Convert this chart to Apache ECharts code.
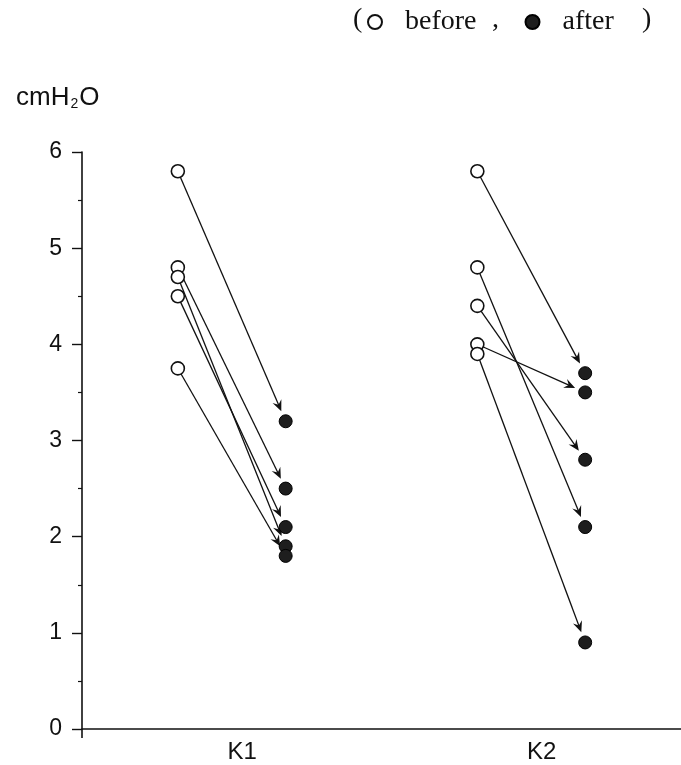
<!DOCTYPE html>
<html>
<head>
<meta charset="utf-8">
<script src="https://cdn.jsdelivr.net/npm/echarts@6/dist/echarts.min.js"></script>
<style>
html,body{margin:0;padding:0;background:#fff;}
#chart{width:681px;height:765px;}
</style>
</head>
<body>
<div id="chart"></div>
<script>
// ---- data ----
var categories = ['K1', 'K2'];
var beforeK1 = [5.8, 4.8, 4.7, 4.5, 3.75];
var afterK1  = [3.2, 2.5, 1.9, 2.1, 1.8];
var beforeK2 = [5.8, 4.8, 4.4, 4.0, 3.9];
var afterK2  = [3.7, 2.1, 2.8, 3.5, 0.9];
var yTicks = [0, 1, 2, 3, 4, 5, 6];
var legendNames = ['before', 'after'];

// ---- layout (positions on the hidden x scale) ----
var groupCenter = [1, 3];
var pairOffset = 0.36;
var labelShift = 0.07;

var groups = [[beforeK1, afterK1], [beforeK2, afterK2]];
var beforePts = [], afterPts = [], pairs = [];
groups.forEach(function (g, gi) {
  var xb = groupCenter[gi] - pairOffset, xa = groupCenter[gi] + pairOffset;
  g[0].forEach(function (v, i) {
    beforePts.push([xb, v]);
    afterPts.push([xa, g[1][i]]);
    pairs.push([xb, v, xa, g[1][i]]);
  });
});
var labelPos = groupCenter.map(function (c) { return c + labelShift; });

var chart = echarts.init(document.getElementById('chart'), null, {renderer: 'canvas'});

function renderArrow(params, api) {
  var p0 = api.coord([api.value(0), api.value(1)]);
  var p1 = api.coord([api.value(2), api.value(3)]);
  var dx = p1[0] - p0[0], dy = p1[1] - p0[1];
  var len = Math.sqrt(dx * dx + dy * dy);
  var ux = dx / len, uy = dy / len;
  var nx = -uy, ny = ux;
  var tip = [p1[0] - ux * 11, p1[1] - uy * 11];
  var start = [p0[0] + ux * 6.5, p0[1] + uy * 6.5];
  var back = 11, half = 4.8, notch = 7;
  var head = [
    tip,
    [tip[0] - ux * back + nx * half, tip[1] - uy * back + ny * half],
    [tip[0] - ux * notch, tip[1] - uy * notch],
    [tip[0] - ux * back - nx * half, tip[1] - uy * back - ny * half]
  ];
  return {
    type: 'group',
    children: [
      {type: 'line', shape: {x1: start[0], y1: start[1], x2: tip[0] - ux * 5, y2: tip[1] - uy * 5},
       style: {stroke: '#111', lineWidth: 1.3}},
      {type: 'polygon', shape: {points: head}, style: {fill: '#111'}}
    ]
  };
}

var option = {
  backgroundColor: '#fff',
  animation: false,
  title: {
    left: 11, top: 80,
    text: '{a|cmH}{s|2}{a|O}',
    textStyle: {
      fontWeight: 'normal',
      rich: {
        a: {fontFamily: 'Liberation Sans', fontSize: 26, fontWeight: 'normal', color: '#111'},
        s: {fontFamily: 'Liberation Sans', fontSize: 14, fontWeight: 'normal', color: '#111', padding: [12, 1, 0, 1]}
      }
    }
  },
  legend: {
    left: 362, top: 3,
    data: legendNames,
    selectedMode: false,
    itemWidth: 50, itemHeight: 14, itemGap: 48,
    textStyle: {fontFamily: 'Liberation Serif', fontSize: 28, color: '#111'}
  },
  graphic: [
    {type: 'text', left: 353, top: 6, style: {text: '(', font: '28px "Liberation Serif"', fill: '#111'}},
    {type: 'text', left: 492, top: 6, style: {text: ',', font: '28px "Liberation Serif"', fill: '#111'}},
    {type: 'text', left: 642, top: 6, style: {text: ')', font: '28px "Liberation Serif"', fill: '#111'}}
  ],
  grid: {left: 82, right: 0, top: 152, bottom: 36, containLabel: false},
  xAxis: {
    type: 'value', min: 0, max: 4,
    splitLine: {show: false},
    axisLine: {show: true, onZero: false, lineStyle: {color: '#111', width: 1.6}},
    axisTick: {show: true, customValues: [0], length: 9, lineStyle: {color: '#111', width: 1.6}},
    axisLabel: {
      show: true, customValues: labelPos, margin: 11,
      fontFamily: 'Liberation Sans', fontSize: 24, color: '#111',
      formatter: function (v) {
        for (var i = 0; i < labelPos.length; i++) if (Math.abs(labelPos[i] - v) < 1e-6) return categories[i];
        return '';
      }
    }
  },
  yAxis: {
    type: 'value', min: yTicks[0], max: yTicks[yTicks.length - 1], interval: 1,
    splitLine: {show: false},
    axisLine: {show: true, lineStyle: {color: '#111', width: 1.6}},
    axisTick: {show: true, length: 10, lineStyle: {color: '#111', width: 1.4}},
    minorTick: {show: true, splitNumber: 2, length: 4, lineStyle: {color: '#111', width: 1.2}},
    axisLabel: {margin: 20, fontFamily: 'Liberation Sans', fontSize: 23, color: '#111'}
  },
  series: [
    {
      type: 'custom', name: 'arrows', renderItem: renderArrow,
      encode: {x: [0, 2], y: [1, 3]}, data: pairs, z: 2, silent: true
    },
    {
      type: 'scatter', name: legendNames[0], data: beforePts, z: 3,
      symbol: 'circle', symbolSize: 13,
      itemStyle: {color: '#fff', borderColor: '#111', borderWidth: 1.6, opacity: 1}
    },
    {
      type: 'scatter', name: legendNames[1], data: afterPts, z: 4,
      symbol: 'circle', symbolSize: 13,
      itemStyle: {color: '#1e1e1e', borderColor: '#000', borderWidth: 1, opacity: 1}
    }
  ]
};
chart.setOption(option);
</script>
</body>
</html>
